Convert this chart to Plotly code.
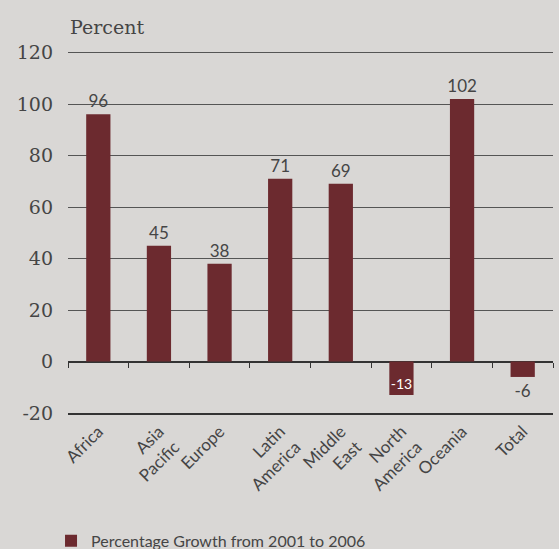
import plotly.graph_objects as go

regions = ["Africa", "Asia<br>Pacific", "Europe", "Latin<br>America", "Middle<br>East",
           "North<br>America", "Oceania", "Total"]
growth = [96, 45, 38, 71, 69, -13, 102, -6]
label_pos = ["outside", "outside", "outside", "outside", "outside", "inside", "outside", "outside"]
y_ticks = [-20, 0, 20, 40, 60, 80, 100, 120]
y_tick_text = ["-20", "0", "20", "40", "60", "80", "100", "120"]

bar_color = "#6c2a2f"
ink = "#454545"
paper = "#d9d7d5"
sans = "Lato, Open Sans, sans-serif"
serif = "DejaVu Serif, Liberation Serif, serif"

y_lo, y_hi = -20, 120.6

fig = go.Figure()
fig.add_trace(go.Bar(
    x=regions, y=growth, width=0.4,
    marker=dict(color=bar_color, line=dict(width=0)),
    text=[str(v) for v in growth], textposition=label_pos,
    insidetextanchor="end", textangle=0, constraintext="none",
    outsidetextfont=dict(family=sans, size=17, color=ink),
    insidetextfont=dict(family=sans, size=14, color="white"),
    cliponaxis=False,
    name="Percentage Growth from 2001 to 2006",
    showlegend=True,
))
# invisible trace to carry the tick axis drawn along the zero line
fig.add_trace(go.Scatter(x=regions, y=[0] * len(regions), xaxis="x2", mode="markers",
                         marker=dict(opacity=0), showlegend=False, hoverinfo="skip"))

fig.update_layout(
    template="none",
    width=559, height=549,
    paper_bgcolor=paper, plot_bgcolor=paper,
    margin=dict(l=68, r=6, t=51, b=136, autoexpand=False),
    showlegend=True,
    legend=dict(x=-0.035, y=-0.40, xanchor="left", yanchor="bottom", orientation="h",
                font=dict(family=sans, size=16, color=ink), bgcolor="rgba(0,0,0,0)"),
    xaxis=dict(type="category", categoryarray=regions, tickangle=-45,
               tickfont=dict(family=sans, size=17, color=ink), automargin=False,
               showgrid=False, showline=True, linecolor="#333333", linewidth=2,
               ticks="", range=[-0.5, 7.5], zeroline=False),
    xaxis2=dict(type="category", categoryarray=regions, overlaying="x", anchor="free",
                position=(0 - y_lo) / (y_hi - y_lo), side="bottom", showticklabels=False,
                ticks="outside", tickson="boundaries", ticklen=5, tickcolor="#333333",
                showline=False, showgrid=False, range=[-0.5, 7.5], zeroline=False),
    yaxis=dict(range=[y_lo, y_hi], tickvals=y_ticks, ticktext=y_tick_text,
               tickfont=dict(family=serif, size=19, color=ink), automargin=False,
               showgrid=True, gridcolor="#555555", gridwidth=1.2,
               zeroline=True, zerolinecolor="#333333", zerolinewidth=2,
               ticks="", ticklabelstandoff=14),
    annotations=[dict(text="Percent", xref="paper", yref="paper", x=0, y=1.03,
                      xanchor="left", yanchor="bottom", showarrow=False,
                      font=dict(family=serif, size=19, color=ink))],
)

fig.write_html("out.html", config={"displayModeBar": False},
               post_script="document.body.style.margin='0';")
